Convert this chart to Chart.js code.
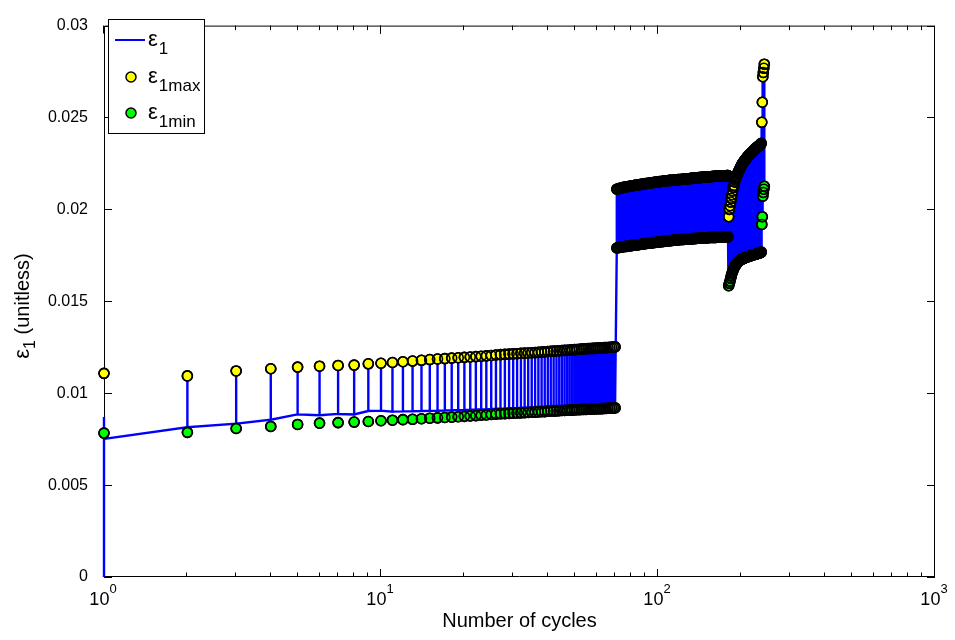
<!DOCTYPE html>
<html>
<head>
<meta charset="utf-8">
<script src="https://cdn.jsdelivr.net/npm/chart.js@4.4.0/dist/chart.umd.min.js"></script>
<style>
  html, body { margin: 0; padding: 0; background: #fff; }
  #wrap { width: 955px; height: 640px; }
</style>
</head>
<body>
<div id="wrap"><canvas id="strainChart" width="955" height="640"></canvas></div>
<script>
// first loading ramp at cycle 1
const startCycles = [1, 1];
const startStrain = [0, 0.0087];

// stage 1: cycles 1..70
const stage1First = 1;
const stage1Max = [
  0.01108,0.01094,0.01121,0.01133,0.01142,0.01147,0.01151,0.01153,0.01160,0.01163,
  0.01167,0.01171,0.01175,0.01179,0.01183,0.01186,0.01188,0.01191,0.01193,0.01195,
  0.01197,0.01199,0.01201,0.01203,0.01205,0.01208,0.01210,0.01211,0.01213,0.01214,
  0.01215,0.01217,0.01218,0.01219,0.01220,0.01221,0.01222,0.01224,0.01225,0.01227,
  0.01228,0.01229,0.01230,0.01231,0.01232,0.01233,0.01234,0.01235,0.01236,0.01237,
  0.01238,0.01239,0.01240,0.01241,0.01242,0.01243,0.01243,0.01244,0.01244,0.01245,
  0.01246,0.01246,0.01247,0.01248,0.01248,0.01249,0.01250,0.01250,0.01251,0.01252
];
const stage1Min = [
  0.00783,0.00787,0.00808,0.00819,0.00830,0.00837,0.00840,0.00843,0.00846,0.00850,
  0.00853,0.00856,0.00858,0.00861,0.00864,0.00866,0.00868,0.00870,0.00872,0.00874,
  0.00876,0.00878,0.00880,0.00882,0.00884,0.00886,0.00888,0.00889,0.00890,0.00891,
  0.00892,0.00893,0.00894,0.00895,0.00896,0.00897,0.00898,0.00899,0.00900,0.00902,
  0.00903,0.00903,0.00904,0.00905,0.00906,0.00906,0.00907,0.00908,0.00908,0.00909,
  0.00910,0.00910,0.00911,0.00912,0.00912,0.00913,0.00913,0.00914,0.00914,0.00915,
  0.00915,0.00916,0.00916,0.00917,0.00917,0.00918,0.00918,0.00919,0.00919,0.00920
];
// trough of the blue trace between peaks (sits a bit above the min markers)
const stage1Base = [
  0.00751,0.00815,0.00834,0.00856,0.00885,0.00880,0.00887,0.00884,0.00903,0.00905,
  0.00900,0.00901,0.00902,0.00903,0.00904,0.00905,0.00906,0.00907,0.00908,0.00909,
  0.00910,0.00911,0.00912,0.00913,0.00914,0.00915,0.00916,0.00917,0.00918,0.00919,
  0.00920,0.00921,0.00922,0.00923,0.00924,0.00925,0.00926,0.00927,0.00928,0.00929,
  0.00930,0.00931,0.00932,0.00932,0.00933,0.00934,0.00935,0.00935,0.00936,0.00937,
  0.00937,0.00938,0.00938,0.00939,0.00939,0.00940,0.00940,0.00941,0.00941,0.00942,
  0.00942,0.00943,0.00943,0.00943,0.00944,0.00944,0.00944,0.00945,0.00945,0.00945
];

// stage 2: cycles 71..179
const stage2First = 71;
const stage2Max = [
  0.02110,0.02113,0.02115,0.02118,0.02120,0.02122,0.02123,0.02125,0.02126,0.02128,
  0.02129,0.02130,0.02132,0.02133,0.02134,0.02135,0.02136,0.02138,0.02139,0.02140,
  0.02141,0.02142,0.02143,0.02144,0.02145,0.02146,0.02147,0.02148,0.02149,0.02150,
  0.02151,0.02152,0.02152,0.02153,0.02154,0.02155,0.02156,0.02156,0.02157,0.02158,
  0.02158,0.02159,0.02159,0.02160,0.02160,0.02161,0.02161,0.02162,0.02162,0.02163,
  0.02163,0.02164,0.02164,0.02165,0.02165,0.02166,0.02166,0.02167,0.02167,0.02168,
  0.02168,0.02169,0.02169,0.02170,0.02170,0.02171,0.02171,0.02172,0.02172,0.02173,
  0.02173,0.02173,0.02174,0.02174,0.02175,0.02175,0.02175,0.02176,0.02176,0.02177,
  0.02177,0.02177,0.02178,0.02178,0.02178,0.02179,0.02179,0.02179,0.02180,0.02180,
  0.02180,0.02180,0.02181,0.02181,0.02181,0.02181,0.02182,0.02182,0.02182,0.02182,
  0.02182,0.02183,0.02183,0.02183,0.02183,0.02183,0.02184,0.02184,0.02184
];
const stage2Min = [
  0.01790,0.01792,0.01794,0.01795,0.01797,0.01798,0.01799,0.01800,0.01802,0.01803,
  0.01804,0.01805,0.01806,0.01807,0.01808,0.01809,0.01810,0.01811,0.01813,0.01814,
  0.01815,0.01816,0.01816,0.01817,0.01818,0.01819,0.01820,0.01820,0.01821,0.01822,
  0.01823,0.01824,0.01824,0.01825,0.01826,0.01827,0.01827,0.01828,0.01829,0.01830,
  0.01830,0.01831,0.01831,0.01832,0.01833,0.01833,0.01834,0.01834,0.01835,0.01836,
  0.01836,0.01836,0.01837,0.01837,0.01838,0.01838,0.01838,0.01839,0.01839,0.01840,
  0.01840,0.01840,0.01841,0.01841,0.01841,0.01842,0.01842,0.01842,0.01843,0.01843,
  0.01843,0.01844,0.01844,0.01844,0.01844,0.01845,0.01845,0.01845,0.01846,0.01846,
  0.01846,0.01846,0.01847,0.01847,0.01847,0.01847,0.01847,0.01848,0.01848,0.01848,
  0.01848,0.01848,0.01849,0.01849,0.01849,0.01849,0.01849,0.01850,0.01850,0.01850,
  0.01850,0.01850,0.01850,0.01851,0.01851,0.01851,0.01851,0.01851,0.01851
];

// stage 3: cycles 180..242
const stage3First = 180;
const stage3Max = [
  0.01960,0.02000,0.02020,0.02040,0.02060,0.02080,0.02100,0.02120,0.02130,0.02150,
  0.02160,0.02169,0.02178,0.02187,0.02196,0.02204,0.02211,0.02218,0.02225,0.02232,
  0.02240,0.02245,0.02250,0.02255,0.02260,0.02264,0.02268,0.02272,0.02276,0.02280,
  0.02284,0.02288,0.02292,0.02295,0.02298,0.02301,0.02304,0.02307,0.02310,0.02313,
  0.02316,0.02319,0.02322,0.02325,0.02328,0.02331,0.02333,0.02336,0.02338,0.02341,
  0.02343,0.02345,0.02348,0.02350,0.02353,0.02356,0.02360,
  0.02474,0.02583,0.02722,0.02745,0.02768,0.02790
];
const stage3Min = [
  0.01585,0.01598,0.01610,0.01625,0.01640,0.01652,0.01663,0.01672,0.01680,0.01687,
  0.01693,0.01699,0.01704,0.01709,0.01713,0.01716,0.01719,0.01722,0.01724,0.01726,
  0.01728,0.01730,0.01731,0.01733,0.01734,0.01735,0.01737,0.01738,0.01739,0.01740,
  0.01742,0.01743,0.01744,0.01745,0.01746,0.01747,0.01748,0.01749,0.01750,0.01751,
  0.01752,0.01753,0.01754,0.01755,0.01756,0.01757,0.01757,0.01758,0.01759,0.01760,
  0.01761,0.01762,0.01763,0.01764,0.01765,0.01766,0.01768,
  0.01918,0.01960,0.02072,0.02092,0.02110,0.02126
];

const xMajorTicks = [1, 10, 100, 1000];
const xMajorExp = ['0', '1', '2', '3'];
const legendSubs = ['1', '1max', '1min'];

const FONT = "'Liberation Sans', Arial, Helvetica, sans-serif";
const BLUE = 'rgb(0,0,255)';
const YELLOW = 'rgb(255,255,0)';
const GREEN = 'rgb(0,255,0)';
const MARKER_R = 5;

const stages = [
  {first: stage1First, max: stage1Max, min: stage1Min, base: stage1Base},
  {first: stage2First, max: stage2Max, min: stage2Min, base: stage2Min},
  {first: stage3First, max: stage3Max, min: stage3Min, base: stage3Min}
];

const linePts = startCycles.map((c, i) => ({x: c, y: startStrain[i]}));
const maxPts = [];
const minPts = [];
stages.forEach(s => {
  s.max.forEach((v, i) => {
    const c = s.first + i;
    maxPts.push({x: c, y: v});
    minPts.push({x: c, y: s.min[i]});
    if (c === 1) {
      linePts.push({x: c, y: s.base[i]});
    } else {
      linePts.push({x: c, y: s.base[i]}, {x: c, y: v}, {x: c, y: s.base[i]});
    }
  });
});

// frame + inward ticks, drawn under the data
// legend, x labels with exponents, y title, drawn on top
const matlabAxes = {
  id: 'matlabAxes',
  beforeDatasetsDraw(chart) {
    const {ctx, chartArea: a, scales: {x, y}} = chart;
    ctx.save();
    ctx.strokeStyle = '#000';
    ctx.lineWidth = 1;
    ctx.beginPath();
    ctx.rect(a.left + 0.5, a.top + 0.5, a.right - a.left - 1, a.bottom - a.top - 1);
    for (let d = 1; d < 1000; d *= 10) {
      for (let k = 1; k <= 10; k++) {
        const px = Math.round(x.getPixelForValue(d * k)) - 0.5;
        const len = (k === 1 || k === 10) ? 8 : 4.5;
        ctx.moveTo(px, a.bottom);
        ctx.lineTo(px, a.bottom - len);
        ctx.moveTo(px, a.top);
        ctx.lineTo(px, a.top + len);
      }
    }
    y.ticks.forEach(t => {
      const py = Math.round(y.getPixelForValue(t.value)) + 0.5;
      ctx.moveTo(a.left, py);
      ctx.lineTo(a.left + 8, py);
      ctx.moveTo(a.right, py);
      ctx.lineTo(a.right - 8, py);
    });
    ctx.stroke();
    ctx.restore();
  },
  afterDraw(chart) {
    const {ctx, chartArea: a, scales: {x}} = chart;
    ctx.save();
    ctx.fillStyle = '#000';
    ctx.textBaseline = 'alphabetic';
    ctx.textAlign = 'left';

    // x tick labels 10^n
    xMajorTicks.forEach((v, i) => {
      const px = x.getPixelForValue(v);
      ctx.font = `18px ${FONT}`;
      const wb = ctx.measureText('10').width;
      ctx.font = `13px ${FONT}`;
      const we = ctx.measureText(xMajorExp[i]).width;
      const x0 = px - (wb + we) / 2 - 1;
      ctx.font = `18px ${FONT}`;
      ctx.fillText('10', x0, a.bottom + 28);
      ctx.font = `13px ${FONT}`;
      ctx.fillText(xMajorExp[i], x0 + wb, a.bottom + 16);
    });

    // y axis title
    ctx.save();
    ctx.translate(29, 306);
    ctx.rotate(-Math.PI / 2);
    ctx.font = `22px ${FONT}`;
    const wEps = ctx.measureText('\u03b5').width;
    ctx.font = `16px ${FONT}`;
    const wSub = ctx.measureText('1').width;
    ctx.font = `20px ${FONT}`;
    const wRest = ctx.measureText(' (unitless)').width;
    let tx = -(wEps + wSub + wRest) / 2;
    ctx.font = `22px ${FONT}`;
    ctx.fillText('\u03b5', tx, 0);
    tx += wEps;
    ctx.font = `16px ${FONT}`;
    ctx.fillText('1', tx, 6);
    tx += wSub;
    ctx.font = `20px ${FONT}`;
    ctx.fillText(' (unitless)', tx, 0);
    ctx.restore();

    // legend box
    const L = {x: 108, y: 19, w: 96, h: 114};
    ctx.fillStyle = '#fff';
    ctx.fillRect(L.x, L.y, L.w, L.h);
    ctx.strokeStyle = '#000';
    ctx.lineWidth = 1;
    ctx.strokeRect(L.x + 0.5, L.y + 0.5, L.w, L.h);

    const rows = [L.y + 21, L.y + 58, L.y + 94];
    ctx.strokeStyle = BLUE;
    ctx.lineWidth = 2;
    ctx.beginPath();
    ctx.moveTo(L.x + 7, rows[0]);
    ctx.lineTo(L.x + 37, rows[0]);
    ctx.stroke();

    [YELLOW, GREEN].forEach((col, i) => {
      ctx.beginPath();
      ctx.arc(L.x + 23, rows[i + 1], MARKER_R, 0, Math.PI * 2);
      ctx.fillStyle = col;
      ctx.fill();
      ctx.strokeStyle = '#000';
      ctx.lineWidth = 1.5;
      ctx.stroke();
    });

    ctx.fillStyle = '#000';
    legendSubs.forEach((sub, i) => {
      const ty = rows[i];
      ctx.font = `22px ${FONT}`;
      ctx.fillText('\u03b5', L.x + 40, ty + 6);
      const w = ctx.measureText('\u03b5').width;
      ctx.font = `17px ${FONT}`;
      ctx.fillText(sub, L.x + 41 + w, ty + 14);
    });
    ctx.restore();
  }
};

const markerBase = {
  showLine: false,
  pointRadius: MARKER_R,
  pointBorderWidth: 1.6,
  pointHoverRadius: MARKER_R,
  clip: false
};

new Chart(document.getElementById('strainChart'), {
  type: 'scatter',
  data: {
    datasets: [
      {
        label: '\u03b5 1',
        data: linePts,
        showLine: true,
        borderColor: BLUE,
        borderWidth: 2.4,
        pointRadius: 0,
        tension: 0,
        clip: false,
        order: 5
      },
      Object.assign({}, markerBase, {
        label: '\u03b5 1max',
        data: maxPts,
        pointBackgroundColor: YELLOW,
        pointBorderColor: '#000',
        order: 4
      }),
      Object.assign({}, markerBase, {
        label: '\u03b5 1min',
        data: minPts,
        pointBackgroundColor: GREEN,
        pointBorderColor: '#000',
        order: 3
      }),
      // marker edges again on top, so that dense runs of markers turn black
      Object.assign({}, markerBase, {
        label: 'max edges',
        data: maxPts,
        pointBackgroundColor: 'rgba(0,0,0,0)',
        pointBorderColor: '#000',
        order: 2
      }),
      Object.assign({}, markerBase, {
        label: 'min edges',
        data: minPts,
        pointBackgroundColor: 'rgba(0,0,0,0)',
        pointBorderColor: '#000',
        order: 1
      })
    ]
  },
  options: {
    responsive: false,
    animation: false,
    events: [],
    layout: {padding: {left: 0, right: 20, top: 14, bottom: 0}},
    plugins: {
      legend: {display: false},
      tooltip: {enabled: false}
    },
    scales: {
      x: {
        type: 'logarithmic',
        min: 1,
        max: 1000,
        grid: {display: false, drawTicks: false},
        border: {display: false},
        ticks: {display: false},
        title: {
          display: true,
          text: 'Number of cycles',
          color: '#000',
          font: {family: FONT, size: 20},
          padding: {top: 0, bottom: 7}
        },
        afterFit: s => { s.height = 63; }
      },
      y: {
        min: 0,
        max: 0.03,
        grid: {display: false, drawTicks: false},
        border: {display: false},
        ticks: {
          stepSize: 0.005,
          color: '#000',
          font: {family: FONT, size: 16},
          padding: 16,
          callback: v => String(+v.toFixed(3))
        },
        afterFit: s => { s.width = 104; }
      }
    }
  },
  plugins: [matlabAxes]
});
</script>
</body>
</html>
